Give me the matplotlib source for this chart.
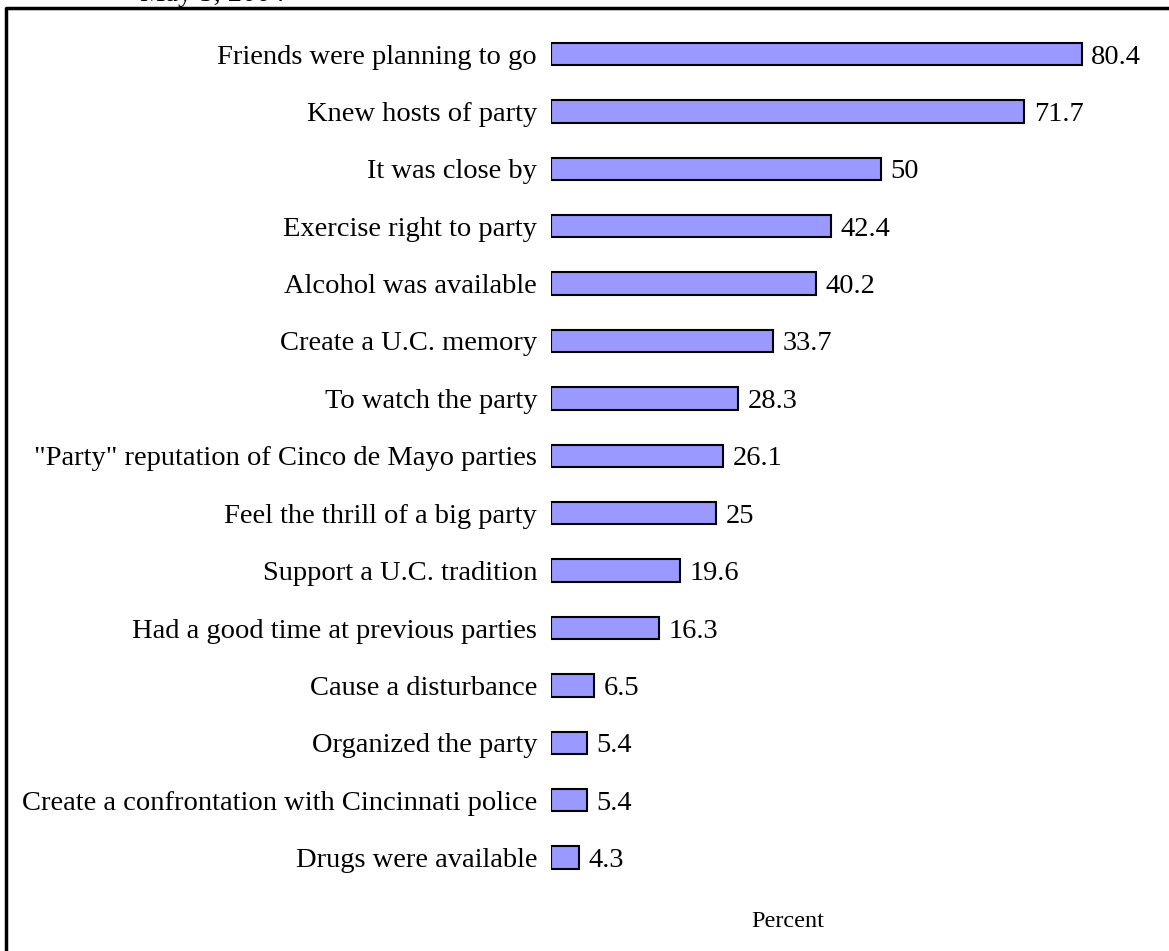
import matplotlib
matplotlib.use("Agg")
import matplotlib.pyplot as plt
from matplotlib.lines import Line2D

reasons = [
    "Friends were planning to go",
    "Knew hosts of party",
    "It was close by",
    "Exercise right to party",
    "Alcohol was available",
    "Create a U.C. memory",
    "To watch the party",
    "\"Party\" reputation of Cinco de Mayo parties",
    "Feel the thrill of a big party",
    "Support a U.C. tradition",
    "Had a good time at previous parties",
    "Cause a disturbance",
    "Organized the party",
    "Create a confrontation with Cincinnati police",
    "Drugs were available",
]
percent = [80.4, 71.7, 50, 42.4, 40.2, 33.7, 28.3, 26.1, 25, 19.6, 16.3, 6.5, 5.4, 5.4, 4.3]
value_labels = ["80.4", "71.7", "50", "42.4", "40.2", "33.7", "28.3", "26.1", "25",
                "19.6", "16.3", "6.5", "5.4", "5.4", "4.3"]

plt.rcParams["font.family"] = ["Liberation Serif", "DejaVu Serif"]

W, H = 1169, 951
fig = plt.figure(figsize=(W / 100, H / 100), dpi=100)
fig.patch.set_facecolor("white")

# axes: x=0 at px 551, 6.6 px per unit; top edge at px 8
left_px, top_px = 551, 8
ax = fig.add_axes([left_px / W, 0, 1 - left_px / W, 1 - top_px / H])
ax.set_xlim(0, (W - left_px) / 6.6)
ax.set_ylim((H - 54) / 57.4, (top_px - 54) / 57.4)

ys = list(range(len(reasons)))
ax.barh(ys, percent, height=0.39, color="#9999ff", edgecolor="black", linewidth=1.5)

for y, v, lab in zip(ys, percent, value_labels):
    ax.text(v + 1.45, y, lab, va="center_baseline", ha="left", fontsize=20.5)

ax.set_yticks(ys)
ax.set_yticklabels(reasons, fontsize=20.5, va="center_baseline")
ax.tick_params(axis="y", length=0, pad=10)
ax.set_xticks([])
for s in ax.spines.values():
    s.set_visible(False)
ax.patch.set_alpha(0)

ax.text(35.9, 15.12, "Percent", ha="center", va="center", fontsize=17.5)

# outer frame (cut off at right and bottom)
fig.add_artist(Line2D([6 / W, 6 / W, 1], [0, 1 - top_px / H, 1 - top_px / H],
                      transform=fig.transFigure, color="black", linewidth=2.5))

# title clipped at the top edge
fig.text(140 / W, 1 - 1 / H, "May 5, 2004", fontsize=20.5, ha="left", va="baseline")

fig.savefig("out.png", dpi=100)
